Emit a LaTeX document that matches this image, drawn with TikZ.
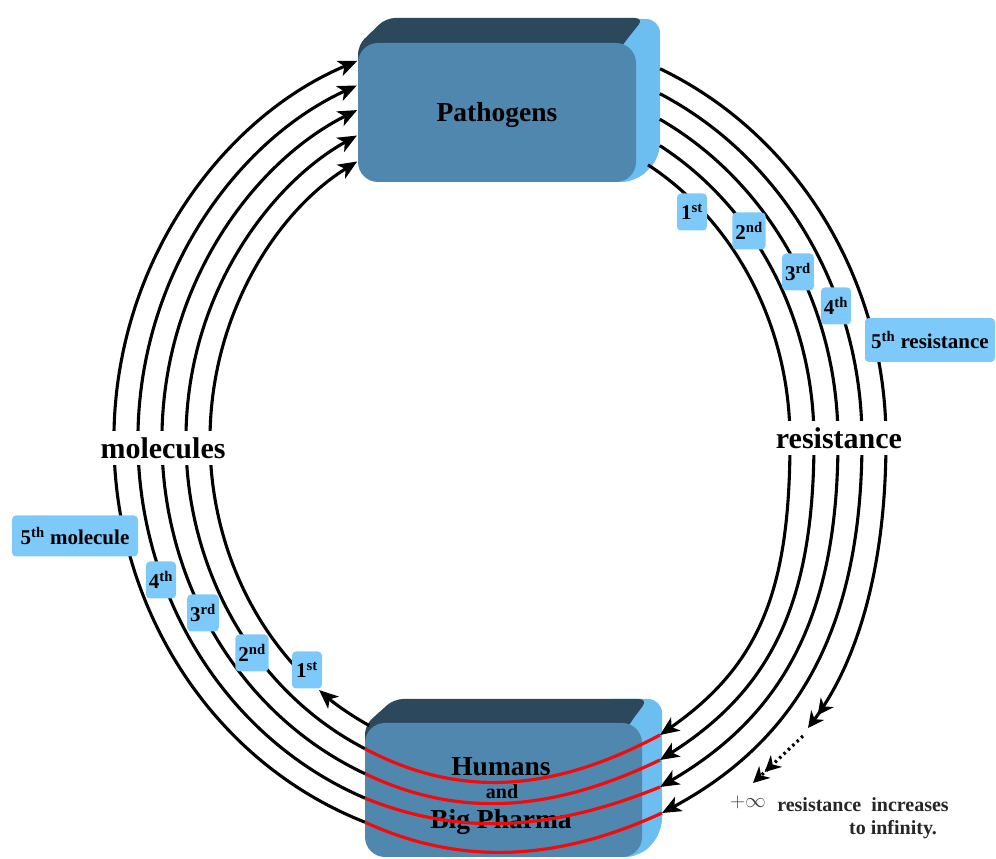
\documentclass[tikz,border=0pt]{standalone}
\usepackage{fontspec}
\setmainfont{Liberation Serif}
\usetikzlibrary{arrows.meta,calc}
\definecolor{frontblue}{RGB}{80,135,175}
\definecolor{topblue}{RGB}{44,72,92}
\definecolor{sideblue}{RGB}{108,190,240}
\definecolor{tagblue}{RGB}{125,202,250}
\definecolor{ringred}{RGB}{245,10,10}
\begin{document}
\begin{tikzpicture}[x=1pt,y=1pt,
  ring/.style={line width=3.1pt, black},
  tip/.style={-{Stealth[length=19pt,width=16pt,inset=5pt]}},
  dtip/.style={-{Stealth[length=16pt,width=16pt,inset=5pt] Stealth[length=16pt,width=16pt,inset=5pt]}},
  redring/.style={line width=3.2pt, ringred},
  boxface/.style={fill=frontblue, rounded corners=20pt, inner sep=0pt},
  tag/.style={fill=tagblue, rounded corners=4pt, inner sep=3pt, minimum width=30pt, minimum height=37pt, font=\fontsize{21}{24}\selectfont\bfseries, text=black},
  big/.style={font=\fontsize{27.5}{30}\selectfont\bfseries, text=black},
  side/.style={fill=white, inner xsep=3pt, inner ysep=6pt, font=\fontsize{30}{33}\selectfont\bfseries, text=black},
  note/.style={font=\fontsize{20}{23}\selectfont\bfseries, text=black!85},
]
\useasboundingbox (0,0) rectangle (996,859);
\clip (0,0) rectangle (996,859);
\coordinate (C) at (500,419);

% Pathogens box
\fill[sideblue, rounded corners=14pt] (590,677) -- (590,840) -- (660,840) -- (660,701) -- (636,677) -- cycle;
\fill[topblue, rounded corners=9pt] (358,780) -- (358,814) -- (386,841) -- (644,841) -- (624,816) -- (600,780) -- cycle;
\node[boxface, minimum width=278pt, minimum height=139pt] (patho) at (497,746.5) {};
\node[big] (pathotext) at (497,744) {Pathogens};

% Humans box
\fill[sideblue, rounded corners=14pt] (600,2) -- (600,160) -- (662,160) -- (662,26) -- (640,2) -- cycle;
\fill[topblue, rounded corners=9pt] (365,100) -- (365,134) -- (394,160) -- (648,160) -- (630,136) -- (610,100) -- cycle;
\node[boxface, minimum width=277pt, minimum height=134pt] (human) at (503.5,69) {};
\node[big] (humantext) at (501,92) {Humans};
\node[font=\fontsize{20}{22}\selectfont\bfseries] (andtext) at (502,67) {and};
\node[big] (pharmatext) at (501,37) {Big Pharma};

% left arcs (molecules)
\draw[ring,tip] (C) ++(243.2:290pt and 320pt) coordinate (Lb0)
  arc[start angle=243.2, end angle=231.4, x radius=290pt, y radius=320pt];
\draw[ring,tip] (C) ++(226:290pt and 320pt)
  arc[start angle=226, end angle=119.5, x radius=290pt, y radius=320pt] coordinate (Lt0);
\foreach \a/\b/\s/\e [count=\k] in {314/342/244.5/117.1, 338/364/246.5/115.0, 362/386/248.1/113.3, 386/408/249.5/111.7}{
  \draw[ring,tip] (C) ++(\s:\a pt and \b pt) coordinate (Lb\k)
    arc[start angle=\s, end angle=\e, x radius=\a pt, y radius=\b pt] coordinate (Lt\k);
}

% right arcs (resistance)
\coordinate (E0) at (660,124);
\coordinate (E1) at (660,99);
\coordinate (E2) at (660,72);
\coordinate (E3) at (662,46);
\coordinate (E4) at (808,131);
\draw[ring,tip] (C) ++(59.3:290pt and 320pt)
  arc[start angle=59.3, end angle=0, x radius=290pt, y radius=320pt]
  .. controls +(0,-150) and +(100,70) .. (E0);
\draw[ring,tip] (C) ++(59.4:314pt and 342pt)
  arc[start angle=59.4, end angle=0, x radius=314pt, y radius=342pt]
  .. controls +(0,-165) and +(110,70) .. (E1);
\draw[ring,tip] (C) ++(61.8:338pt and 364pt)
  arc[start angle=61.8, end angle=0, x radius=338pt, y radius=364pt]
  .. controls +(0,-180) and +(120,70) .. (E2);
\draw[ring,tip] (C) ++(63.8:362pt and 386pt)
  arc[start angle=63.8, end angle=0, x radius=362pt, y radius=386pt]
  .. controls +(0,-195) and +(130,70) .. (E3);
\draw[ring,dtip] (C) ++(65.5:386pt and 408pt)
  arc[start angle=65.5, end angle=0, x radius=386pt, y radius=408pt]
  .. controls +(0,-150) and +(39,52) .. (E4);

% towards infinity
\coordinate (D1) at (803,123);
\coordinate (D2) at (753,76);
\draw[line width=3.2pt, dash pattern=on 2.5pt off 3.5pt, dtip] (D1) -- (D2);

% red arcs through Humans box
\draw[redring] (Lb1) .. controls +(100,-53.3) and +(-100,-53.3) .. (E0);
\draw[redring] (Lb2) .. controls +(100,-48) and +(-100,-48) .. (E1);
\draw[redring] (Lb3) .. controls +(100,-40.7) and +(-100,-40.7) .. (E2);
\draw[redring] (Lb4) .. controls +(100,-46) and +(-100,-46) .. (E3);

% tags on the right
\node[tag] (r1) at (692,647) {1\textsuperscript{st}};
\node[tag] (r2) at (749,628) {2\textsuperscript{nd}};
\node[tag] (r3) at (798,587) {3\textsuperscript{rd}};
\node[tag] (r4) at (836,553) {4\textsuperscript{th}};
\node[tag, minimum width=130pt, minimum height=44pt] (r5) at (930,519) {5\textsuperscript{th} resistance};

% tags on the left
\node[tag, minimum width=126pt, minimum height=41pt] (l5) at (75,323) {5\textsuperscript{th} molecule};
\node[tag] (l4) at (161,279) {4\textsuperscript{th}};
\node[tag] (l3) at (203,246) {3\textsuperscript{rd}};
\node[tag] (l2) at (252,206) {2\textsuperscript{nd}};
\node[tag] (l1) at (307,189) {1\textsuperscript{st}};

% side labels
\node[side] (mol) at (163,411) {molecules};
\node[side] (res) at (839,421) {resistance};

% note
\node[font=\fontsize{22}{24}\selectfont, text=black!75] (inf) at (748,57) {$+\infty$};
\node[note] (note1) at (863,54) {resistance\ \ increases};
\node[note] (note2) at (893,29) {to infinity.};
\end{tikzpicture}
\end{document}
